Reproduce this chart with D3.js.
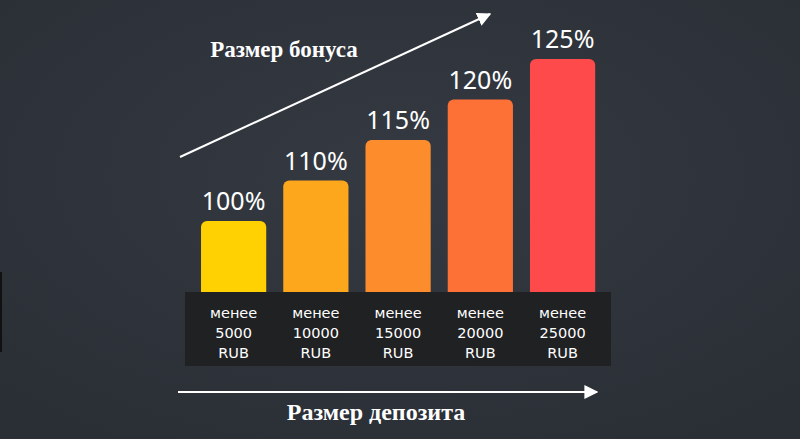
<!DOCTYPE html><html><head><meta charset="utf-8">
<script src="https://cdn.jsdelivr.net/npm/d3@7"></script>
<style>body{margin:0;background:#2f343c}</style></head><body>
<svg id="c" width="800" height="439"></svg>
<script>
const categories=["менее|5000|RUB","менее|10000|RUB","менее|15000|RUB","менее|20000|RUB","менее|25000|RUB"];
const values=[100,110,115,120,125];
const labels=["100%","110%","115%","120%","125%"];
const colors=["#ffd102","#fda71d","#fd8c2c","#fd7136","#ff4a4c"];
const svg=d3.select("#c");
const defs=svg.append("defs");
const g=defs.append("radialGradient").attr("id","bg").attr("cx","50%").attr("cy","40%").attr("r","70%");
g.append("stop").attr("offset","0").attr("stop-color","#353a42");
g.append("stop").attr("offset","1").attr("stop-color","#2a2e35");
svg.append("rect").attr("width",800).attr("height",439).attr("fill","url(#bg)");
const x=d3.scaleBand().domain(categories).range([189.5,606.7]).paddingInner(0.207).paddingOuter(0.14);
const y=d3.scaleLinear().domain(values).range(values.map((v,i)=>221-40.5*i));
const base=300;
svg.selectAll(".bar").data(values).join("rect").attr("x",(d,i)=>x(categories[i])).attr("y",d=>y(d))
 .attr("width",x.bandwidth()).attr("height",d=>base-y(d)).attr("rx",6).attr("fill",(d,i)=>colors[i]);
svg.append("rect").attr("x",185).attr("y",292).attr("width",426).attr("height",74).attr("fill","#1f2123");
svg.selectAll(".pl").data(values).join("text").attr("x",(d,i)=>x(categories[i])+x.bandwidth()/2).attr("y",d=>y(d)-11)
 .attr("text-anchor","middle").attr("fill","#fff").attr("font-family","'Noto Sans', sans-serif").attr("font-size",25).text((d,i)=>labels[i]);
categories.forEach(c=>{
 const t=svg.append("text").attr("text-anchor","middle").attr("fill","#fff").attr("font-family","'DejaVu Sans', sans-serif").attr("font-size",14.5);
 c.split("|").forEach((s,j)=>t.append("tspan").attr("x",x(c)+x.bandwidth()/2).attr("y",318+j*20).text(s));
});
const m=defs.append("marker").attr("id","ah").attr("viewBox","0 0 10 10").attr("refX",9).attr("refY",5).attr("markerWidth",7).attr("markerHeight",7).attr("orient","auto-start-reverse");
m.append("path").attr("d","M0,0L10,5L0,10z").attr("fill","#fff");
svg.append("line").attr("x1",180).attr("y1",157).attr("x2",490).attr("y2",14).attr("stroke","#fff").attr("stroke-width",2).attr("marker-end","url(#ah)");
svg.append("line").attr("x1",178).attr("y1",392).attr("x2",597).attr("y2",392).attr("stroke","#fff").attr("stroke-width",2).attr("marker-end","url(#ah)");
svg.append("text").attr("x",284).attr("y",57).attr("text-anchor","middle").attr("fill","#fff").attr("font-family","'Liberation Serif', serif").attr("font-weight","bold").attr("font-size",23).text("Размер бонуса");
svg.append("text").attr("x",376).attr("y",420).attr("text-anchor","middle").attr("fill","#fff").attr("font-family","'Liberation Serif', serif").attr("font-weight","bold").attr("font-size",24).text("Размер депозита");
svg.append("line").attr("x1",1).attr("y1",272).attr("x2",1).attr("y2",352).attr("stroke","#111").attr("stroke-width",2);
</script></body></html>
